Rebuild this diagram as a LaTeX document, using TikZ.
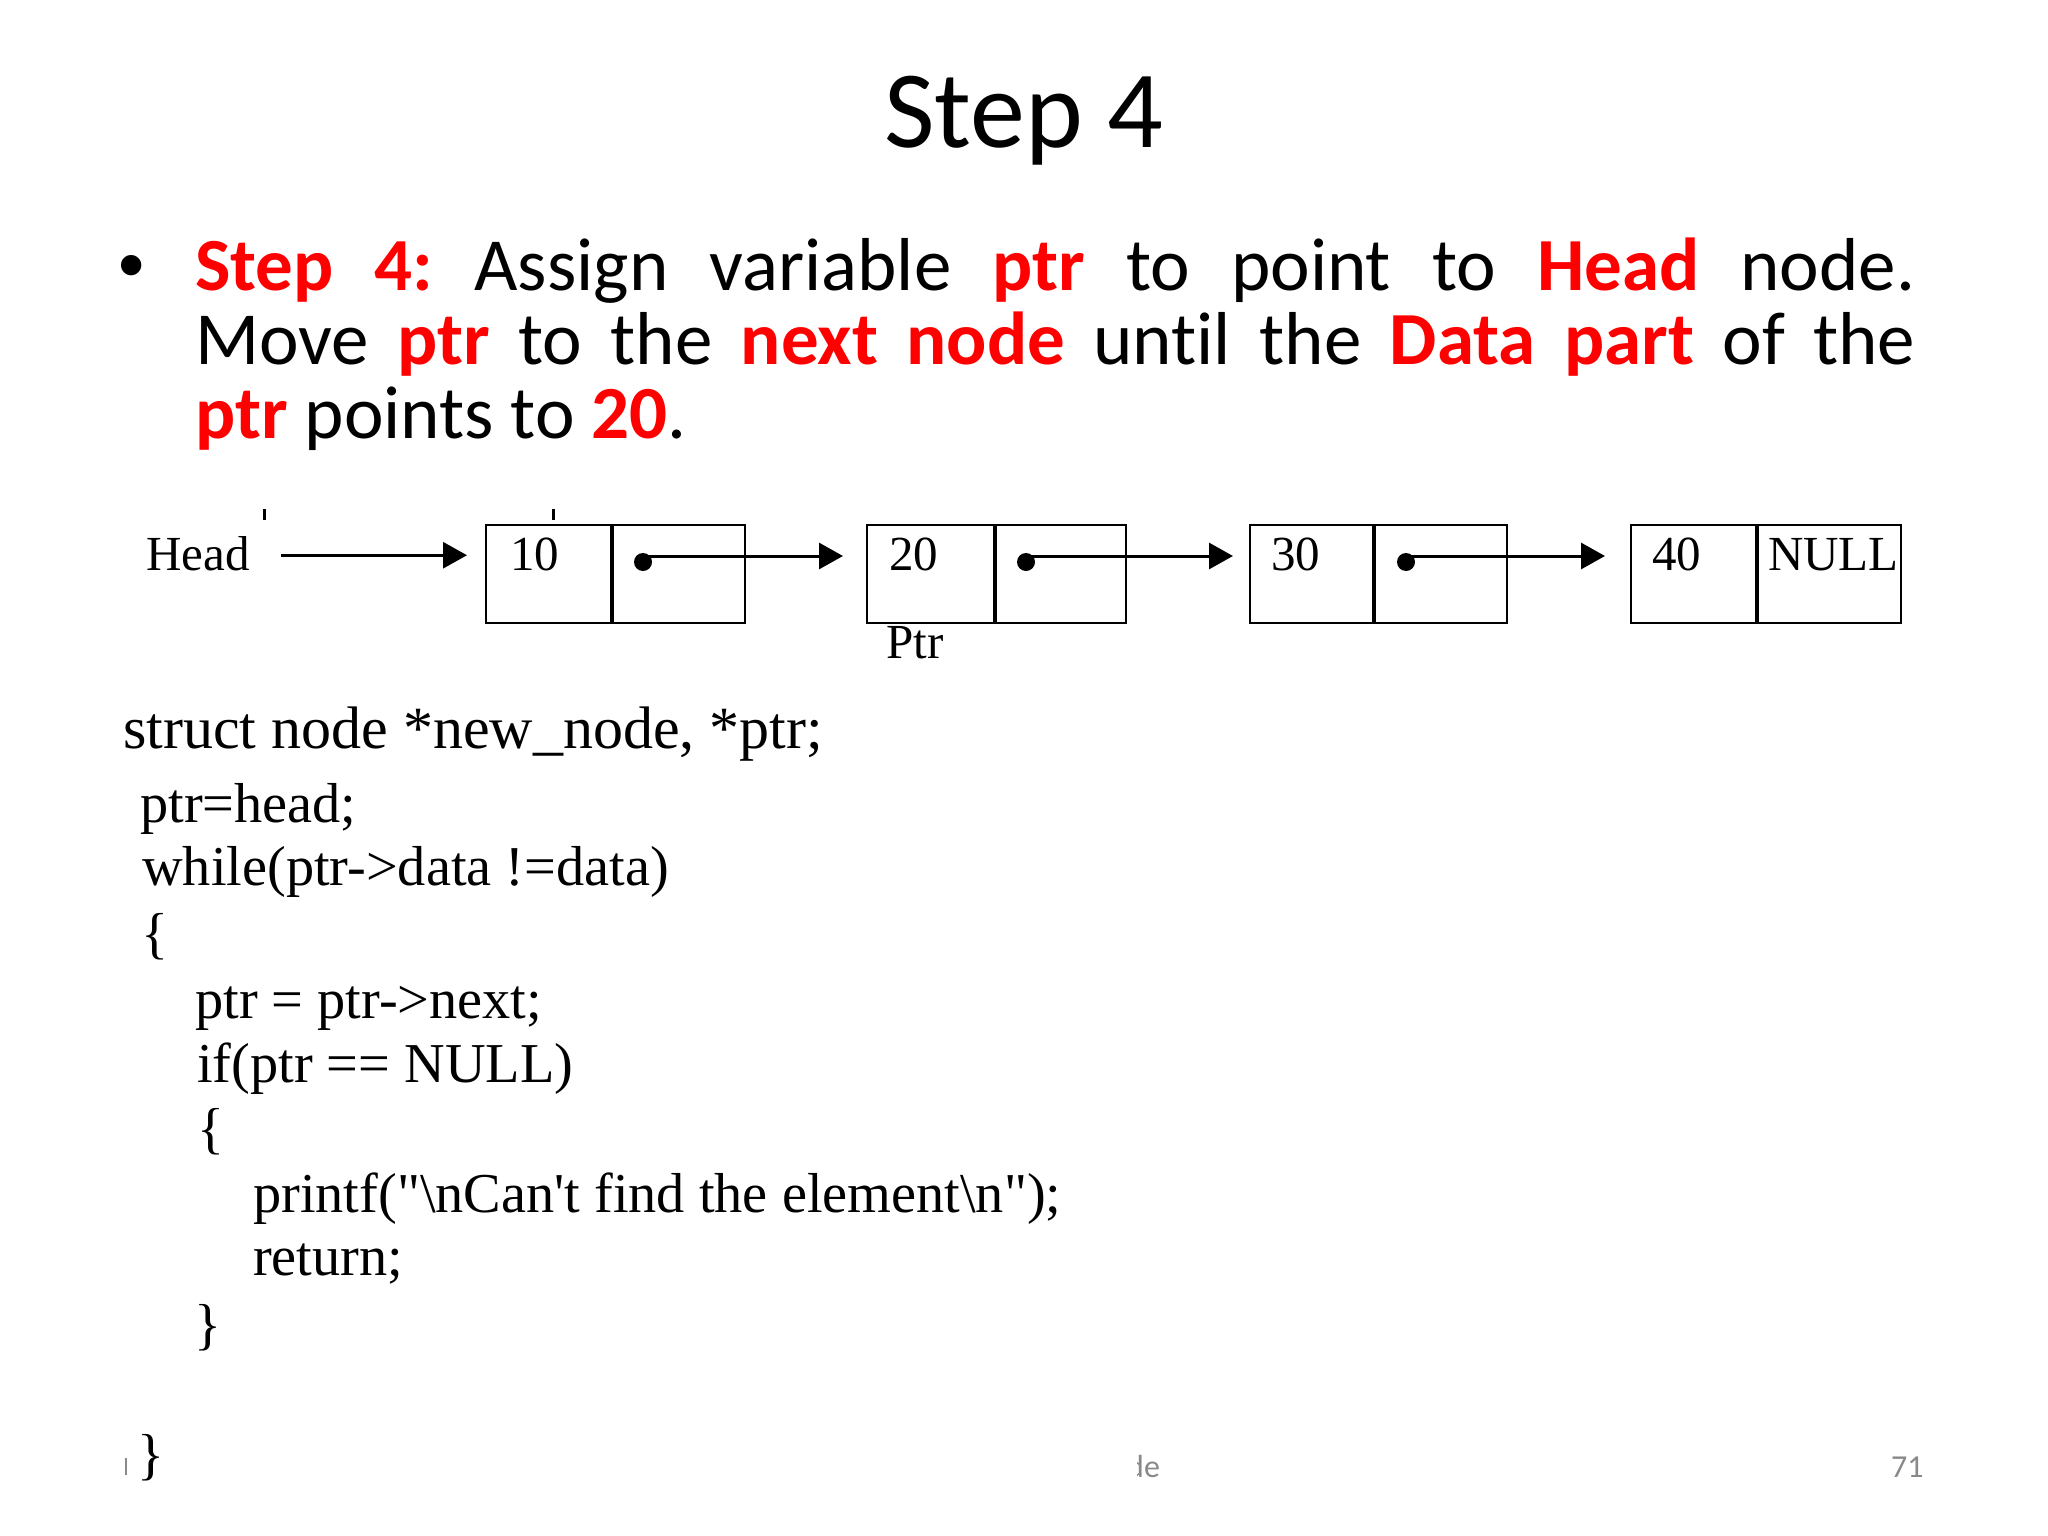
\documentclass[tikz,border=0pt]{standalone}
\usepackage{fontspec}
\setmainfont{Carlito}[Ligatures=NoCommon]
\newfontfamily\codefont{Liberation Serif}[Ligatures=TeXOff]
\newfontfamily\bulletfont{Liberation Sans}
\usetikzlibrary{arrows.meta}
\definecolor{keyred}{RGB}{255,0,0}
\definecolor{footgray}{RGB}{137,137,137}
\newcommand{\kw}[1]{\textbf{\color{keyred}#1}}
\frenchspacing
\tikzset{cell/.style={draw,line width=2pt,minimum height=98pt,inner sep=0pt,anchor=north west},
 link/.style={-{Triangle[length=24pt,width=26pt]},line width=3pt},
 ptrdot/.style={circle,fill,inner sep=0pt,minimum size=18pt},
 txt/.style={anchor=base west,inner sep=0pt},
 diag/.style={font=\codefont\fontsize{49pt}{49pt}\selectfont},
 code/.style={font=\codefont\fontsize{56.3pt}{56.3pt}\selectfont}}

\begin{document}
\begin{tikzpicture}[x=1pt,y=-1pt]
\fill[white] (0,0) rectangle (2048,1536);
\node[anchor=base,inner sep=0pt,font=\fontsize{110pt}{110pt}\selectfont] (title) at (1024,148) {Step 4};
\node[anchor=base,inner sep=0pt,font=\bulletfont\fontsize{75pt}{75pt}\selectfont] (bullet) at (132,290) {•};
\node[txt] (step) at (195,290) {\parbox[t]{1720pt}{\fontsize{75pt}{74pt}\selectfont\tolerance=10000
 \kw{Step 4:} Assign variable \kw{ptr} to point to \kw{Head} node.\linebreak
 Move \kw{ptr} to the \kw{next node} until the \kw{Data part} of the\linebreak
 \kw{ptr} points to \kw{20}.}};

\node[cell,minimum width=125pt] (d1) at (485,524) {};
\node[cell,minimum width=132pt] (n1) at (d1.north east) {};
\node[cell,minimum width=127pt] (d2) at (866,524) {};
\node[cell,minimum width=130pt] (n2) at (d2.north east) {};
\node[cell,minimum width=123pt] (d3) at (1249,524) {};
\node[cell,minimum width=132pt] (n3) at (d3.north east) {};
\node[cell,minimum width=125pt] (d4) at (1630,524) {};
\node[cell,minimum width=143pt] (n4) at (d4.north east) {};
\node[txt,diag] (head) at (146,570) {Head};
\node[txt,diag] (v1) at (510,570) {10};
\node[txt,diag] (v2) at (889,570) {20};
\node[txt,diag] (v3) at (1271,570) {30};
\node[txt,diag] (v4) at (1652,570) {40};
\node[txt,diag] (null) at (1768,570) {NULL};
\node[txt,diag] (ptr) at (886,658) {Ptr};
\node[ptrdot] (k1) at (643,562) {};
\node[ptrdot] (k2) at (1026,562) {};
\node[ptrdot] (k3) at (1406,562) {};
\coordinate (s1) at ([yshift=6pt]k1.center);
\coordinate (s2) at ([yshift=6pt]k2.center);
\coordinate (s3) at ([yshift=6pt]k3.center);
\draw[link,shorten <=31pt,shorten >=18pt] ([yshift=-2pt]head.east) -- ([yshift=-2pt]head.east -| d1.west);
\draw[link,shorten >=23pt] (s1) -- (s1 -| d2.west);
\draw[link,shorten >=16pt] (s2) -- (s2 -| d3.west);
\draw[link,shorten >=25pt] (s3) -- (s3 -| d4.west);
\draw[line width=3pt] (264,509) -- (264,520);
\draw[line width=3pt] (553,509) -- (553,520);

\node[txt,code,font=\codefont\fontsize{60pt}{60pt}\selectfont] (c1) at (123,748) {struct node *new\_node, *ptr;};
\node[txt,code] (c2) at (140,822) {ptr=head;};
\node[txt,code] (c3) at (142,885) {while(ptr->data !=data)};
\node[txt,code] (c4) at (141,952) {\{};
\node[txt,code] (c5) at (195,1018) {ptr = ptr->next;};
\node[txt,code] (c6) at (197,1082) {if(ptr == NULL)};
\node[txt,code] (c7) at (197,1147) {\{};
\node[txt,code] (c8) at (253,1212) {printf("\textbackslash nCan't find the element\textbackslash n");};
\node[txt,code] (c9) at (253,1275) {return;};
\node[txt,code] (c10) at (194,1343) {\}};
\node[txt,code] (c11) at (137,1473) {\}};

\node[txt,text=footgray,font=\fontsize{32pt}{32pt}\selectfont] (foot) at (1127,1477) {de};
\fill[white] (1118,1445) rectangle (1137,1485);
\node[txt,text=footgray,font=\fontsize{32pt}{32pt}\selectfont] (page) at (1891,1477) {71};
\draw[footgray,line width=2pt] (126,1458) -- (126,1475);
\end{tikzpicture}
\end{document}
